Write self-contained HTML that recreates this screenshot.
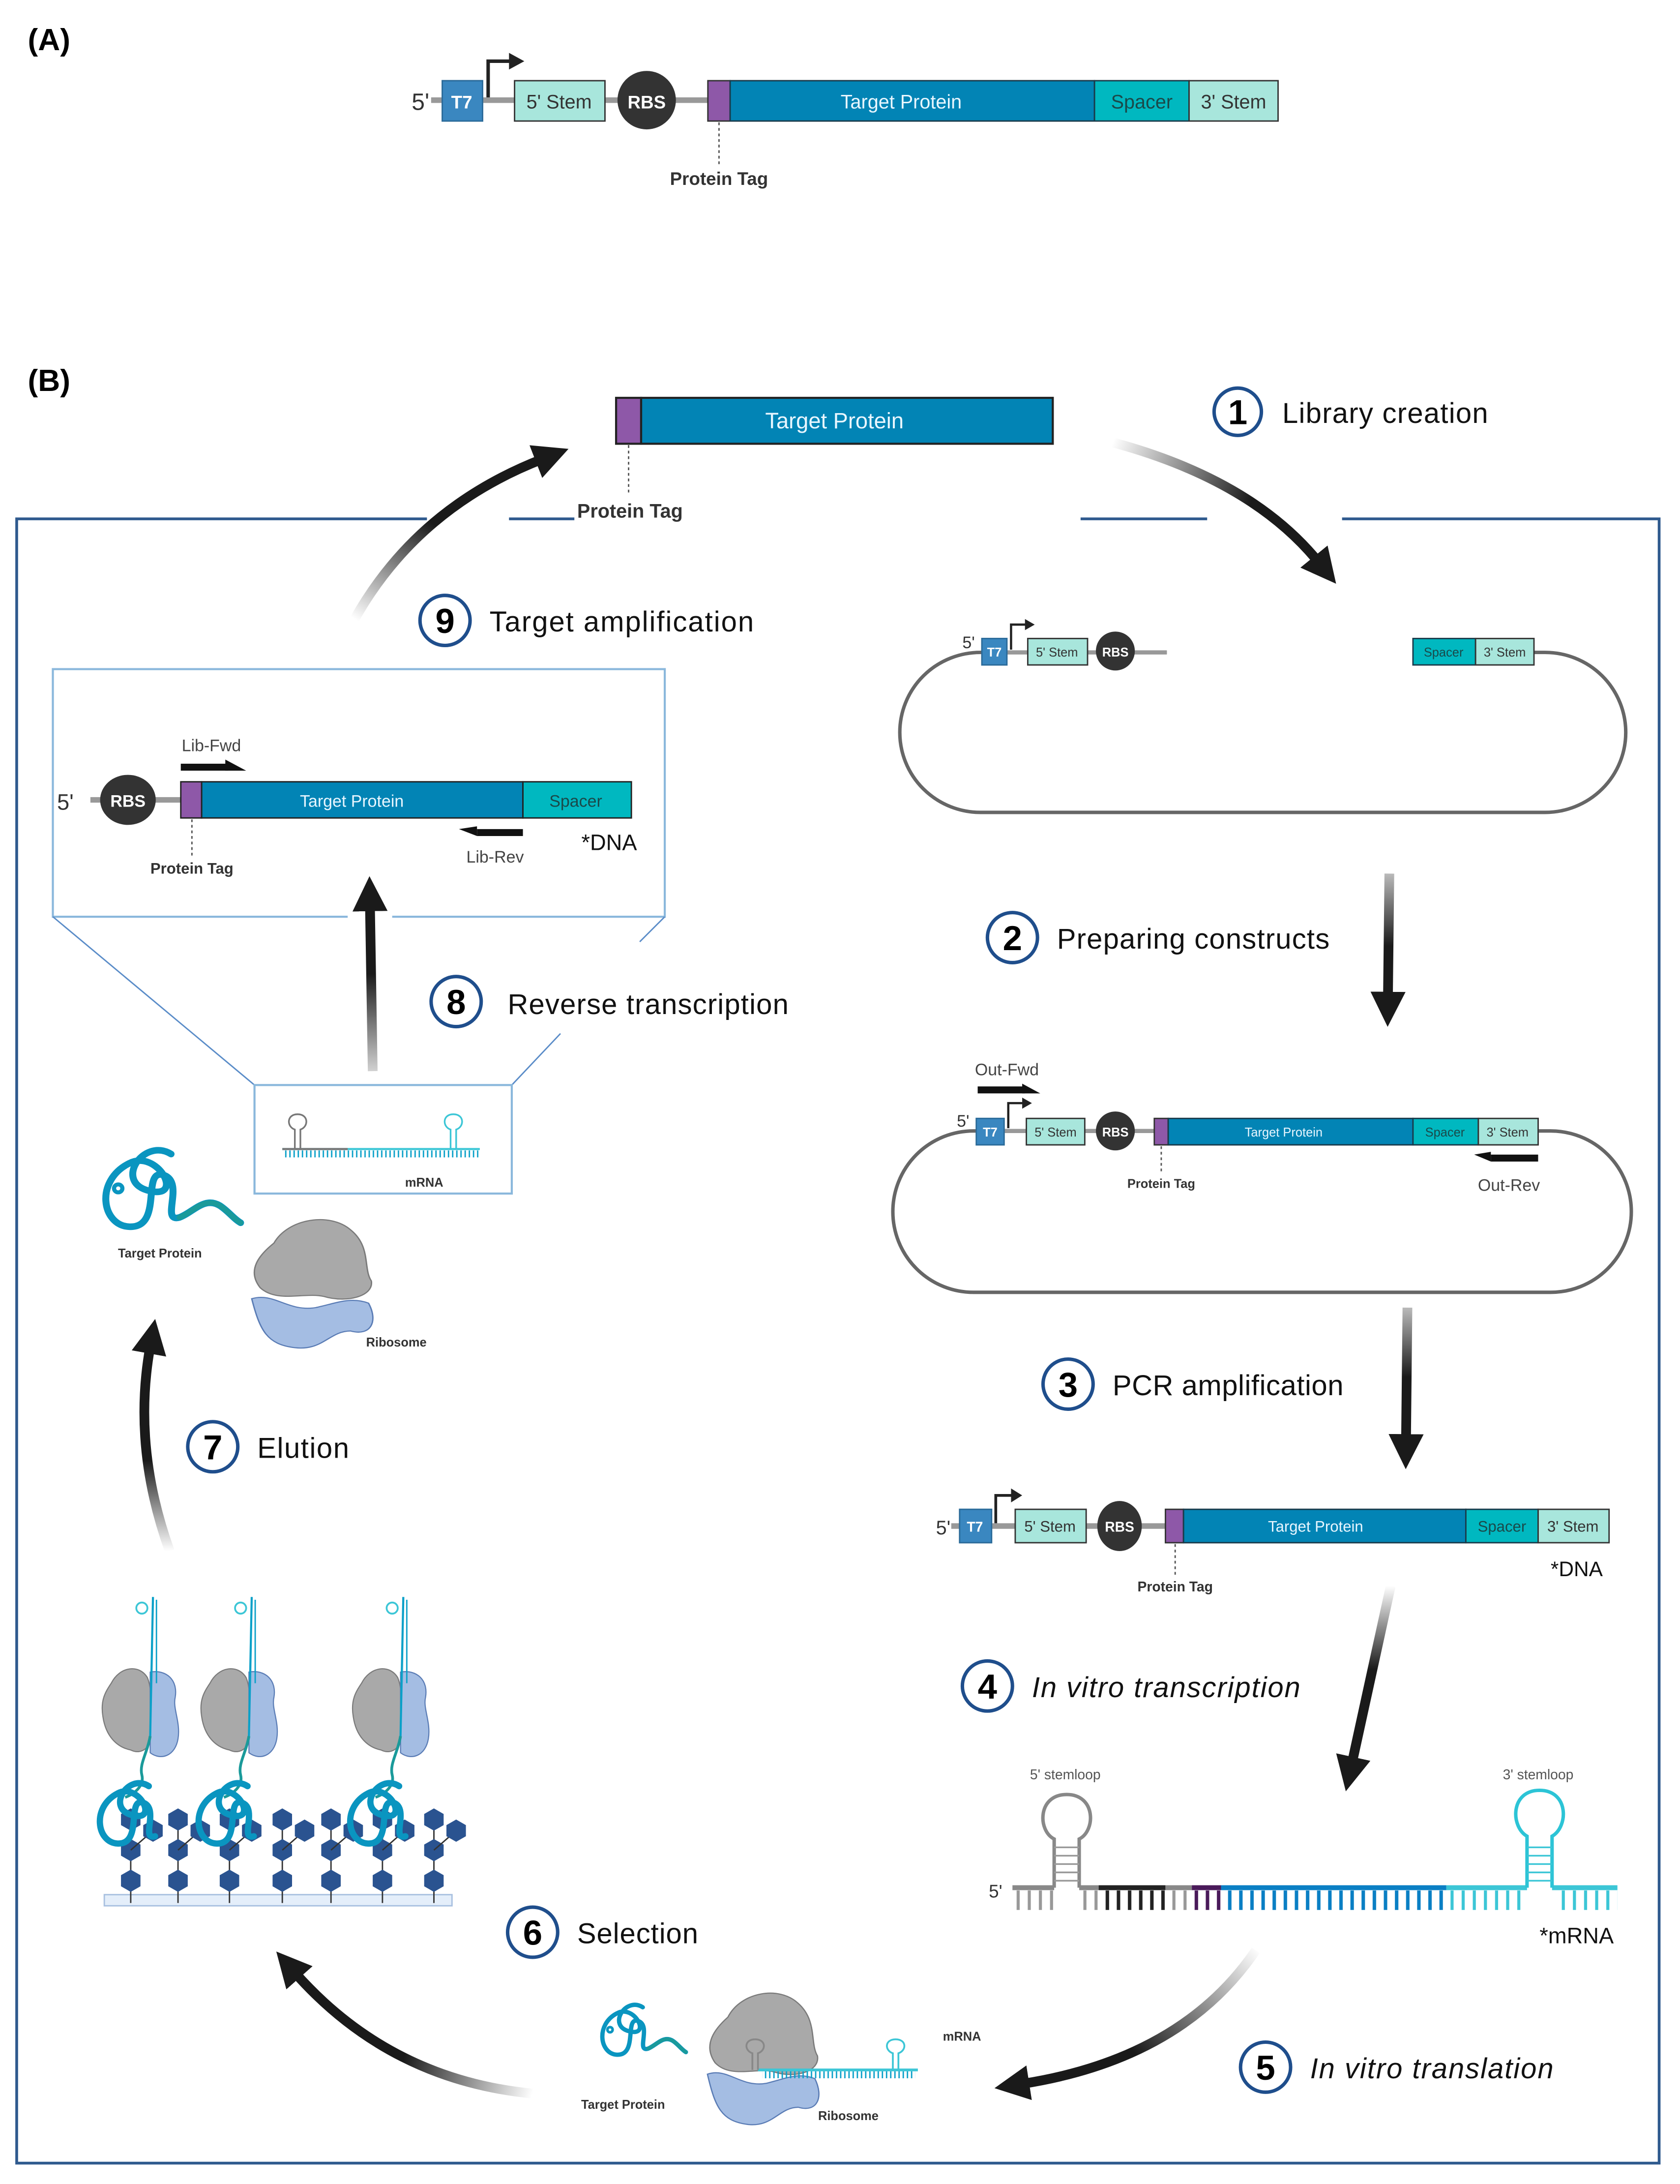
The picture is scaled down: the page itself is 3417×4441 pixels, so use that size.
<!DOCTYPE html>
<html><head><meta charset="utf-8"><style>
html,body{margin:0;padding:0;background:#fff}
svg{display:block}
text{font-family:"Liberation Sans",sans-serif}
</style></head><body>
<svg width="3417" height="4441" viewBox="0 0 1208 1570" preserveAspectRatio="none" xmlns="http://www.w3.org/2000/svg">
<defs>
<marker id="ah" viewBox="0 0 10 10" refX="2" refY="5" markerWidth="3.6" markerHeight="3.6" orient="auto" markerUnits="strokeWidth"><path d="M0,0 L10,5 L0,10 Z" fill="#1a1a1a"/></marker>
<pattern id="tg" width="8" height="14" patternUnits="userSpaceOnUse"><rect x="3" y="0" width="2.2" height="14" fill="#999"/></pattern>
<pattern id="tk" width="8" height="14" patternUnits="userSpaceOnUse"><rect x="3" y="0" width="2.5" height="14" fill="#222"/></pattern>
<pattern id="tp" width="8" height="14" patternUnits="userSpaceOnUse"><rect x="3" y="0" width="2.5" height="14" fill="#4a1a5a"/></pattern>
<pattern id="tb" width="8" height="14" patternUnits="userSpaceOnUse"><rect x="3" y="0" width="2.5" height="14" fill="#0a7fc4"/></pattern>
<pattern id="tc" width="8" height="14" patternUnits="userSpaceOnUse"><rect x="3" y="0" width="2.2" height="14" fill="#3cc6d6"/></pattern>
<pattern id="sm" width="3" height="5" patternUnits="userSpaceOnUse"><rect x="1" y="0" width="1" height="5" fill="#0aa0c8"/></pattern>
<g id="prot"><path d="M60,8 C40,-5 18,30 45,36 C70,42 50,4 30,15 C5,28 10,62 30,63 C55,64 38,18 55,24 C70,30 52,60 66,56 C76,52 84,40 95,47 C101,51 105,57 110,60" fill="none" stroke="#0a95c0" stroke-width="5" stroke-linecap="round"/><path d="M66,56 C76,52 84,40 95,47 C101,51 105,57 110,60" fill="none" stroke="#1a9a9a" stroke-width="4" stroke-linecap="round"/><circle cx="22" cy="34" r="3" fill="none" stroke="#0a95c0" stroke-width="3"/></g>
<g id="ribo"><path d="M20,22 C30,0 60,-6 75,10 C90,25 84,45 90,56 C92,70 72,76 56,70 C42,66 22,76 10,62 C0,46 10,32 20,22 Z" fill="#a9a9a9" stroke="#7a7a7a" stroke-width="1"/><path d="M4,72 C20,66 30,84 50,80 C65,76 75,70 88,76 C95,92 90,106 75,101 C60,101 55,119 35,116 C15,113 10,101 4,72 Z" fill="#a4bde3" stroke="#5a7cb5" stroke-width="1"/></g>
<g id="protc"><path d="M60,8 C40,-5 18,30 45,36 C70,42 50,4 30,15 C5,28 10,62 30,63 C55,64 38,18 55,24 C70,30 52,60 66,56" fill="none" stroke="#0a95c0" stroke-width="6" stroke-linecap="round"/></g>
<g id="rv"><path d="M8,12 C14,0 28,-2 34,8 C38,18 36,30 38,44 C38,58 30,64 22,60 C12,58 4,50 2,36 C0,24 4,18 8,12 Z" fill="#a9a9a9" stroke="#7a7a7a" stroke-width="0.8"/><path d="M36,4 C48,2 56,10 54,22 C52,30 58,40 56,52 C54,64 44,68 36,62 Z" fill="#a4bde3" stroke="#5a7cb5" stroke-width="0.8"/><line x1="38" y1="-50" x2="36" y2="50" stroke="#0aa0c8" stroke-width="1.5"/><rect x="38" y="-48" width="4" height="60" fill="url(#sm)"/><circle cx="30" cy="-42" r="4" fill="none" stroke="#3cc6d6" stroke-width="1.3"/><path d="M36,50 C34,62 28,70 30,78 C32,86 24,92 18,94" fill="none" stroke="#1a9a9a" stroke-width="2"/><g transform="translate(-10,80) scale(0.75)"><use href="#protc"/></g></g>
<g id="hexcol"><line x1="0" y1="0" x2="0" y2="60" stroke="#333" stroke-width="1"/><polygon points="0,-8 7,-4 7,4 0,8 -7,4 -7,-4" fill="#2a5390"/><polygon points="0,14 7,18 7,26 0,30 -7,26 -7,18" fill="#2a5390"/><polygon points="0,36 7,40 7,48 0,52 -7,48 -7,40" fill="#2a5390"/><line x1="0" y1="22" x2="16" y2="8" stroke="#333" stroke-width="1"/><polygon points="16,0 23,4 23,12 16,16 9,12 9,4" fill="#2a5390"/></g>
<linearGradient id="g1" gradientUnits="userSpaceOnUse" x1="800" y1="318" x2="900" y2="360"><stop offset="0" stop-color="#1a1a1a" stop-opacity="0"/><stop offset="1" stop-color="#1a1a1a"/></linearGradient>
<linearGradient id="g9" gradientUnits="userSpaceOnUse" x1="255" y1="445" x2="300" y2="370"><stop offset="0" stop-color="#1a1a1a" stop-opacity="0"/><stop offset="1" stop-color="#1a1a1a"/></linearGradient>
<linearGradient id="g2" gradientUnits="userSpaceOnUse" x1="0" y1="628" x2="0" y2="680"><stop offset="0" stop-color="#1a1a1a" stop-opacity="0.3"/><stop offset="1" stop-color="#1a1a1a"/></linearGradient>
<linearGradient id="g3" gradientUnits="userSpaceOnUse" x1="0" y1="940" x2="0" y2="990"><stop offset="0" stop-color="#1a1a1a" stop-opacity="0.3"/><stop offset="1" stop-color="#1a1a1a"/></linearGradient>
<linearGradient id="g4" gradientUnits="userSpaceOnUse" x1="0" y1="1140" x2="0" y2="1200"><stop offset="0" stop-color="#1a1a1a" stop-opacity="0"/><stop offset="1" stop-color="#1a1a1a"/></linearGradient>
<linearGradient id="g5" gradientUnits="userSpaceOnUse" x1="903" y1="1400" x2="820" y2="1480"><stop offset="0" stop-color="#1a1a1a" stop-opacity="0"/><stop offset="1" stop-color="#1a1a1a"/></linearGradient>
<linearGradient id="g6" gradientUnits="userSpaceOnUse" x1="383" y1="1505" x2="290" y2="1480"><stop offset="0" stop-color="#1a1a1a" stop-opacity="0"/><stop offset="1" stop-color="#1a1a1a"/></linearGradient>
<linearGradient id="g7" gradientUnits="userSpaceOnUse" x1="0" y1="1115" x2="0" y2="1050"><stop offset="0" stop-color="#1a1a1a" stop-opacity="0"/><stop offset="1" stop-color="#1a1a1a"/></linearGradient>
<linearGradient id="g8" gradientUnits="userSpaceOnUse" x1="0" y1="770" x2="0" y2="700"><stop offset="0" stop-color="#1a1a1a" stop-opacity="0.2"/><stop offset="1" stop-color="#1a1a1a"/></linearGradient>
</defs>

<!-- Panel A -->
<text x="20" y="36" font-size="22" font-weight="bold">(A)</text>
<line x1="310" y1="72" x2="510" y2="72" stroke="#999" stroke-width="4"/>
<text x="296" y="79" font-size="17" fill="#333">5'</text>
<rect x="318" y="58" width="29" height="29" fill="#3a87c0" stroke="#2a6a99"/>
<text x="332" y="78" font-size="13" font-weight="bold" fill="#fff" text-anchor="middle">T7</text>
<path d="M351,70 V44 H368" fill="none" stroke="#222" stroke-width="2.5"/><path d="M366,38 L377,44 L366,50 Z" fill="#222"/>
<rect x="370" y="58" width="65" height="29" fill="#a8e6dc" stroke="#333"/>
<text x="402" y="78" font-size="14" fill="#333" text-anchor="middle">5' Stem</text>
<ellipse cx="465" cy="72" rx="21" ry="21" fill="#333"/>
<text x="465" y="78" font-size="13" font-weight="bold" fill="#fff" text-anchor="middle">RBS</text>
<rect x="509" y="58" width="16" height="29" fill="#8e58a8" stroke="#333"/>
<rect x="525" y="58" width="262" height="29" fill="#0284b5" stroke="#1a3a4a"/>
<text x="648" y="78" font-size="14" fill="#e8f6ff" text-anchor="middle">Target Protein</text>
<rect x="787" y="58" width="68" height="29" fill="#00b8c0" stroke="#1a3a4a"/>
<text x="821" y="78" font-size="14" fill="#1a4a4a" text-anchor="middle">Spacer</text>
<rect x="855" y="58" width="64" height="29" fill="#a8e6dc" stroke="#333"/>
<text x="887" y="78" font-size="14" fill="#333" text-anchor="middle">3' Stem</text>
<line x1="517" y1="88" x2="517" y2="118" stroke="#555" stroke-dasharray="2,2"/>
<text x="517" y="133" font-size="13" font-weight="bold" fill="#333" text-anchor="middle">Protein Tag</text>

<!-- Panel B -->
<text x="20" y="281" font-size="22" font-weight="bold">(B)</text>
<g stroke="#2f5a8e" stroke-width="2" fill="none">
<path d="M307,373 H12 V1555 H1193 V373 H965"/>
<line x1="366" y1="373" x2="413" y2="373"/>
<line x1="777" y1="373" x2="868" y2="373"/>
</g>
<rect x="443" y="286" width="18" height="33" fill="#8e58a8" stroke="#222" stroke-width="1.5"/>
<rect x="461" y="286" width="296" height="33" fill="#0284b5" stroke="#222" stroke-width="1.5"/>
<text x="600" y="308" font-size="16" fill="#e8f6ff" text-anchor="middle">Target Protein</text>
<line x1="452" y1="320" x2="452" y2="356" stroke="#555" stroke-dasharray="2,2"/>
<text x="453" y="372" font-size="14" font-weight="bold" fill="#333" text-anchor="middle">Protein Tag</text>

<!-- step labels -->
<g fill="none" stroke="#1f4e8c" stroke-width="2.5">
<circle cx="890" cy="296" r="17"/><circle cx="728" cy="674" r="18"/><circle cx="768" cy="995" r="18"/><circle cx="710" cy="1212" r="18"/><circle cx="910" cy="1486" r="18"/><circle cx="383" cy="1389" r="18"/><circle cx="153" cy="1040" r="18"/><circle cx="328" cy="720" r="18"/><circle cx="320" cy="446" r="18"/>
</g>
<g font-size="25" font-weight="bold" text-anchor="middle">
<text x="890" y="305">1</text><text x="728" y="683">2</text><text x="768" y="1004">3</text><text x="710" y="1221">4</text><text x="910" y="1495">5</text><text x="383" y="1398">6</text><text x="153" y="1049">7</text><text x="328" y="729">8</text><text x="320" y="455">9</text>
</g>
<g font-size="20.5" fill="#111">
<text x="922" y="304" textLength="148">Library creation</text>
<text x="760" y="682" textLength="196">Preparing constructs</text>
<text x="800" y="1003" textLength="166">PCR amplification</text>
<text x="742" y="1220" font-style="italic" textLength="193">In vitro transcription</text>
<text x="942" y="1494" font-style="italic" textLength="175">In vitro translation</text>
<text x="415" y="1397" textLength="87">Selection</text>
<text x="185" y="1048" textLength="66">Elution</text>
<text x="365" y="729" textLength="202">Reverse transcription</text>
<text x="352" y="454" textLength="190">Target amplification</text>
</g>

<!-- arrows -->
<g fill="none" stroke-width="7">
<path d="M800,318 Q900,345 948,404" stroke="url(#g1)" marker-end="url(#ah)"/>
<path d="M255,445 Q300,365 390,330" stroke="url(#g9)" marker-end="url(#ah)"/>
<path d="M999,628 L998,718" stroke="url(#g2)" marker-end="url(#ah)"/>
<path d="M1012,940 L1011,1036" stroke="url(#g3)" marker-end="url(#ah)"/>
<path d="M1000,1140 L972,1268" stroke="url(#g4)" marker-end="url(#ah)"/>
<path d="M903,1402 Q850,1480 735,1498" stroke="url(#g5)" marker-end="url(#ah)"/>
<path d="M383,1505 Q280,1495 212,1418" stroke="url(#g6)" marker-end="url(#ah)"/>
<path d="M122,1115 Q95,1040 108,968" stroke="url(#g7)" marker-end="url(#ah)"/>
<path d="M268,770 L266,650" stroke="url(#g8)" marker-end="url(#ah)"/>
</g>

<!-- plasmid 1 -->
<rect x="647" y="469" width="522" height="115" rx="58" ry="58" fill="none" stroke="#666" stroke-width="2.5"/>
<rect x="839" y="462" width="178" height="14" fill="#fff"/>
<line x1="724" y1="469" x2="839" y2="469" stroke="#999" stroke-width="3"/>
<text x="692" y="466" font-size="12" fill="#333">5'</text>
<rect x="706" y="459" width="18" height="19" fill="#3a87c0" stroke="#2a6a99"/>
<text x="715" y="472" font-size="9" font-weight="bold" fill="#fff" text-anchor="middle">T7</text>
<path d="M727,467 V449 H738" fill="none" stroke="#222" stroke-width="1.6"/><path d="M737,445 L744,449 L737,453 Z" fill="#222"/>
<rect x="739" y="459" width="43" height="19" fill="#a8e6dc" stroke="#333"/>
<text x="760" y="472" font-size="9" fill="#333" text-anchor="middle">5' Stem</text>
<circle cx="802" cy="468" r="14" fill="#333"/>
<text x="802" y="472" font-size="9" font-weight="bold" fill="#fff" text-anchor="middle">RBS</text>
<rect x="1016" y="459" width="45" height="19" fill="#00b8c0" stroke="#1a3a4a"/>
<text x="1038" y="472" font-size="9" fill="#1a4a4a" text-anchor="middle">Spacer</text>
<rect x="1061" y="459" width="42" height="19" fill="#a8e6dc" stroke="#333"/>
<text x="1082" y="472" font-size="9" fill="#333" text-anchor="middle">3' Stem</text>

<!-- plasmid 2 -->
<rect x="642" y="813" width="531" height="116" rx="58" ry="58" fill="none" stroke="#666" stroke-width="2.5"/>
<line x1="720" y1="813" x2="830" y2="813" stroke="#999" stroke-width="3"/>
<text x="688" y="810" font-size="12" fill="#333">5'</text>
<rect x="702" y="804" width="20" height="19" fill="#3a87c0" stroke="#2a6a99"/>
<text x="712" y="817" font-size="9" font-weight="bold" fill="#fff" text-anchor="middle">T7</text>
<path d="M725,811 V793 H736" fill="none" stroke="#222" stroke-width="1.6"/><path d="M735,789 L742,793 L735,797 Z" fill="#222"/>
<rect x="738" y="804" width="42" height="19" fill="#a8e6dc" stroke="#333"/>
<text x="759" y="817" font-size="9" fill="#333" text-anchor="middle">5' Stem</text>
<circle cx="802" cy="813" r="14" fill="#333"/>
<text x="802" y="817" font-size="9" font-weight="bold" fill="#fff" text-anchor="middle">RBS</text>
<rect x="830" y="804" width="10" height="19" fill="#8e58a8" stroke="#333"/>
<rect x="840" y="804" width="176" height="19" fill="#0284b5" stroke="#1a3a4a"/>
<text x="923" y="817" font-size="9" fill="#e8f6ff" text-anchor="middle">Target Protein</text>
<rect x="1016" y="804" width="47" height="19" fill="#00b8c0" stroke="#1a3a4a"/>
<text x="1039" y="817" font-size="9" fill="#1a4a4a" text-anchor="middle">Spacer</text>
<rect x="1063" y="804" width="43" height="19" fill="#a8e6dc" stroke="#333"/>
<text x="1084" y="817" font-size="9" fill="#333" text-anchor="middle">3' Stem</text>
<line x1="835" y1="824" x2="835" y2="842" stroke="#555" stroke-dasharray="2,2"/>
<text x="835" y="854" font-size="9" font-weight="bold" fill="#333" text-anchor="middle">Protein Tag</text>
<text x="724" y="773" font-size="12" fill="#444" text-anchor="middle">Out-Fwd</text>
<rect x="703" y="781" width="34" height="5" fill="#111"/><path d="M735,779 L748,786 L735,786 Z" fill="#111"/>
<rect x="1072" y="830" width="34" height="5" fill="#111"/><path d="M1072,828 L1060,830 L1072,835 Z" fill="#111"/>
<text x="1085" y="856" font-size="12" fill="#444" text-anchor="middle">Out-Rev</text>

<!-- linear DNA 3 -->
<line x1="684" y1="1097" x2="840" y2="1097" stroke="#999" stroke-width="4"/>
<text x="673" y="1103" font-size="14" fill="#333">5'</text>
<rect x="690" y="1085" width="23" height="24" fill="#3a87c0" stroke="#2a6a99"/>
<text x="701" y="1101" font-size="10" font-weight="bold" fill="#fff" text-anchor="middle">T7</text>
<path d="M716,1095 V1075 H728" fill="none" stroke="#222" stroke-width="2"/><path d="M727,1070 L735,1075 L727,1080 Z" fill="#222"/>
<rect x="730" y="1085" width="51" height="24" fill="#a8e6dc" stroke="#333"/>
<text x="755" y="1101" font-size="11" fill="#333" text-anchor="middle">5' Stem</text>
<ellipse cx="805" cy="1097" rx="16" ry="18" fill="#333"/>
<text x="805" y="1101" font-size="10" font-weight="bold" fill="#fff" text-anchor="middle">RBS</text>
<rect x="838" y="1085" width="13" height="24" fill="#8e58a8" stroke="#333"/>
<rect x="851" y="1085" width="203" height="24" fill="#0284b5" stroke="#1a3a4a"/>
<text x="946" y="1101" font-size="11" fill="#e8f6ff" text-anchor="middle">Target Protein</text>
<rect x="1054" y="1085" width="52" height="24" fill="#00b8c0" stroke="#1a3a4a"/>
<text x="1080" y="1101" font-size="11" fill="#1a4a4a" text-anchor="middle">Spacer</text>
<rect x="1106" y="1085" width="51" height="24" fill="#a8e6dc" stroke="#333"/>
<text x="1131" y="1101" font-size="11" fill="#333" text-anchor="middle">3' Stem</text>
<line x1="845" y1="1110" x2="845" y2="1132" stroke="#555" stroke-dasharray="2,2"/>
<text x="845" y="1144" font-size="10" font-weight="bold" fill="#333" text-anchor="middle">Protein Tag</text>
<text x="1115" y="1133" font-size="15" fill="#111">*DNA</text>

<!-- mRNA 4 -->
<text x="711" y="1364" font-size="13" fill="#333">5'</text>
<rect x="728" y="1359" width="30" height="14" fill="url(#tg)"/>
<rect x="776" y="1359" width="14" height="14" fill="url(#tg)"/>
<rect x="790" y="1359" width="48" height="14" fill="url(#tk)"/>
<rect x="838" y="1359" width="19" height="14" fill="url(#tg)"/>
<rect x="857" y="1359" width="21" height="14" fill="url(#tp)"/>
<rect x="878" y="1359" width="162" height="14" fill="url(#tb)"/>
<rect x="1040" y="1359" width="56" height="14" fill="url(#tc)"/>
<rect x="1118" y="1359" width="45" height="14" fill="url(#tc)"/>
<line x1="728" y1="1357" x2="758" y2="1357" stroke="#888" stroke-width="3.5"/>
<line x1="776" y1="1357" x2="790" y2="1357" stroke="#888" stroke-width="3.5"/>
<line x1="790" y1="1357" x2="838" y2="1357" stroke="#222" stroke-width="3.5"/>
<line x1="838" y1="1357" x2="857" y2="1357" stroke="#888" stroke-width="3.5"/>
<line x1="857" y1="1357" x2="878" y2="1357" stroke="#4a1a5a" stroke-width="3.5"/>
<line x1="878" y1="1357" x2="1040" y2="1357" stroke="#0a7fc4" stroke-width="3.5"/>
<line x1="1040" y1="1357" x2="1098" y2="1357" stroke="#3cc6d6" stroke-width="3.5"/>
<line x1="1116" y1="1357" x2="1163" y2="1357" stroke="#3cc6d6" stroke-width="3.5"/>
<g stroke="#888" stroke-width="2.5" fill="none"><path d="M758,1357 V1322 C746,1316 746,1290 767,1290 C788,1290 788,1316 776,1322 V1357"/></g>
<g stroke="#999" stroke-width="1.2"><line x1="758" y1="1328" x2="776" y2="1328"/><line x1="758" y1="1334" x2="776" y2="1334"/><line x1="758" y1="1340" x2="776" y2="1340"/><line x1="758" y1="1346" x2="776" y2="1346"/><line x1="758" y1="1352" x2="776" y2="1352"/></g>
<g stroke="#2cc4d6" stroke-width="2.5" fill="none"><path d="M1098,1357 V1320 C1086,1313 1086,1287 1107,1287 C1128,1287 1128,1313 1116,1320 V1357"/></g>
<g stroke="#3cc6d6" stroke-width="1.2"><line x1="1098" y1="1328" x2="1116" y2="1328"/><line x1="1098" y1="1334" x2="1116" y2="1334"/><line x1="1098" y1="1340" x2="1116" y2="1340"/><line x1="1098" y1="1346" x2="1116" y2="1346"/><line x1="1098" y1="1352" x2="1116" y2="1352"/></g>
<text x="766" y="1279" font-size="10" fill="#555" text-anchor="middle">5' stemloop</text>
<text x="1106" y="1279" font-size="10" fill="#555" text-anchor="middle">3' stemloop</text>
<text x="1107" y="1397" font-size="16" fill="#111">*mRNA</text>

<!-- bottom complex (5) -->
<g transform="translate(425,1438) scale(0.62)"><use href="#prot"/></g>
<g transform="translate(505,1432) scale(0.92,0.82)"><use href="#ribo"/></g>
<line x1="545" y1="1488" x2="660" y2="1488" stroke="#3cc6d6" stroke-width="2"/>
<rect x="548" y="1489" width="110" height="5" fill="url(#sm)"/>
<path d="M642,1488 V1476 C636,1474 636,1466 644,1466 C652,1466 652,1474 646,1476 V1488" fill="none" stroke="#3cc6d6" stroke-width="1.3"/>
<path d="M541,1488 V1476 C535,1474 535,1466 543,1466 C551,1466 551,1474 545,1476 V1488" fill="none" stroke="#888" stroke-width="1.3"/>
<text x="678" y="1467" font-size="9" font-weight="bold" fill="#333">mRNA</text>
<text x="448" y="1516" font-size="9" font-weight="bold" fill="#333" text-anchor="middle">Target Protein</text>
<text x="610" y="1524" font-size="9" font-weight="bold" fill="#333" text-anchor="middle">Ribosome</text>

<!-- selection surface (6) -->
<rect x="75" y="1362" width="250" height="8" fill="#e4eefa" stroke="#a8c0e0"/>
<g transform="translate(94,1308)"><use href="#hexcol"/></g>
<g transform="translate(128,1308)"><use href="#hexcol"/></g>
<g transform="translate(165,1308)"><use href="#hexcol"/></g>
<g transform="translate(203,1308)"><use href="#hexcol"/></g>
<g transform="translate(238,1308)"><use href="#hexcol"/></g>
<g transform="translate(275,1308)"><use href="#hexcol"/></g>
<g transform="translate(312,1308)"><use href="#hexcol"/></g>
<g transform="translate(72,1198)"><use href="#rv"/></g>
<g transform="translate(143,1198)"><use href="#rv"/></g>
<g transform="translate(252,1198)"><use href="#rv"/></g>

<!-- elution (7) -->
<g transform="translate(63,822) scale(1,0.95)"><use href="#prot"/></g>
<text x="115" y="904" font-size="9" font-weight="bold" fill="#333" text-anchor="middle">Target Protein</text>
<g transform="translate(177,876) scale(1,0.8)"><use href="#ribo"/></g>
<text x="285" y="968" font-size="9" font-weight="bold" fill="#333" text-anchor="middle">Ribosome</text>

<!-- inset (8/9) -->
<path d="M250,659 H38 V481 H478 V659 H282" fill="none" stroke="#8bb8dc" stroke-width="1.5"/>
<line x1="38" y1="659" x2="183" y2="780" stroke="#5a8cc8" stroke-width="1"/>
<line x1="478" y1="659" x2="460" y2="677" stroke="#5a8cc8" stroke-width="1"/>
<line x1="403" y1="743" x2="368" y2="780" stroke="#5a8cc8" stroke-width="1"/>
<rect x="183" y="780" width="185" height="78" fill="none" stroke="#8bb8dc" stroke-width="1.5"/>
<line x1="203" y1="826" x2="345" y2="826" stroke="#3cc6d6" stroke-width="1.5"/>
<line x1="203" y1="826" x2="250" y2="826" stroke="#777" stroke-width="1.5"/>
<rect x="204" y="827" width="140" height="5" fill="url(#sm)"/>
<path d="M212,826 V812 C206,810 206,801 214,801 C222,801 222,810 216,812 V826" fill="none" stroke="#777" stroke-width="1.2"/>
<path d="M324,826 V812 C318,810 318,801 326,801 C334,801 334,810 328,812 V826" fill="none" stroke="#3cc6d6" stroke-width="1.2"/>
<text x="305" y="853" font-size="9" font-weight="bold" fill="#333" text-anchor="middle">mRNA</text>

<line x1="65" y1="575" x2="130" y2="575" stroke="#999" stroke-width="4"/>
<text x="41" y="582" font-size="16" fill="#333">5'</text>
<ellipse cx="92" cy="575" rx="20" ry="18" fill="#333"/>
<text x="92" y="580" font-size="12" font-weight="bold" fill="#fff" text-anchor="middle">RBS</text>
<rect x="130" y="562" width="15" height="26" fill="#8e58a8" stroke="#222"/>
<rect x="145" y="562" width="231" height="26" fill="#0284b5" stroke="#222"/>
<text x="253" y="580" font-size="12" fill="#e8f6ff" text-anchor="middle">Target Protein</text>
<rect x="376" y="562" width="78" height="26" fill="#00b8c0" stroke="#222"/>
<text x="414" y="580" font-size="12" fill="#1a4a4a" text-anchor="middle">Spacer</text>
<line x1="138" y1="589" x2="138" y2="615" stroke="#555" stroke-dasharray="2,2"/>
<text x="138" y="628" font-size="11" font-weight="bold" fill="#333" text-anchor="middle">Protein Tag</text>
<text x="152" y="540" font-size="12" fill="#444" text-anchor="middle">Lib-Fwd</text>
<rect x="130" y="549" width="34" height="5" fill="#111"/><path d="M162,546 L177,554 L162,554 Z" fill="#111"/>
<rect x="343" y="596" width="33" height="5" fill="#111"/><path d="M343,594 L330,596 L343,601 Z" fill="#111"/>
<text x="356" y="620" font-size="12" fill="#444" text-anchor="middle">Lib-Rev</text>
<text x="418" y="611" font-size="16" fill="#111">*DNA</text>
</svg>
</body></html>
